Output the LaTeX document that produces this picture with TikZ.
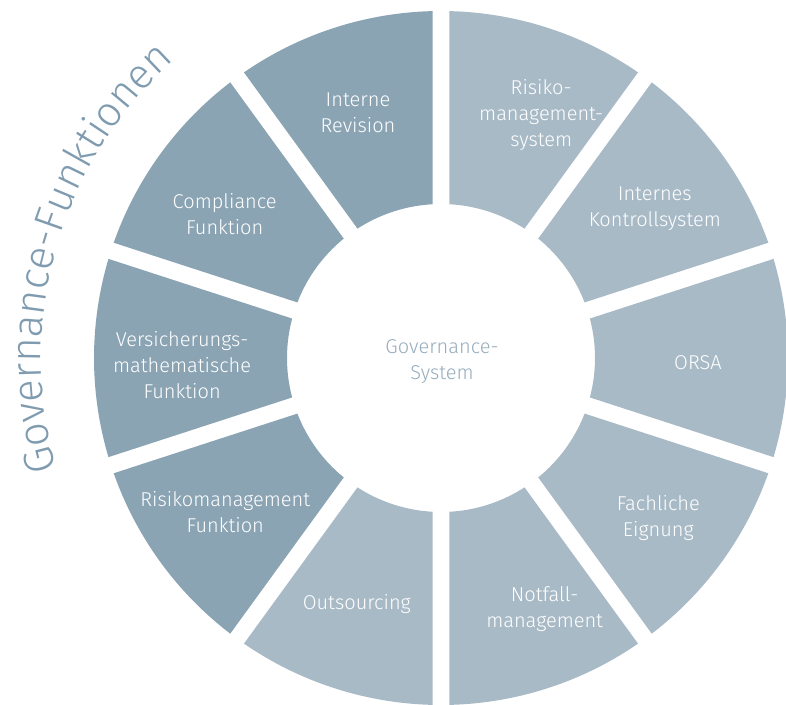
\documentclass[tikz,border=0pt]{standalone}
\usepackage{fontspec}
\setmainfont{Fira Sans}[UprightFont=* Light]
\usepackage{tikz}
\usetikzlibrary{decorations.text}
\definecolor{darkseg}{RGB}{139,164,180}
\definecolor{lightseg}{RGB}{169,186,199}
\definecolor{govtext}{RGB}{127,155,175}
\definecolor{hubtext}{RGB}{150,172,188}
\tikzset{
        segtext/.style = {text=white, align=center,
            font=\fontsize{20}{26}\selectfont},
        hub/.style = {text=hubtext, align=center,
            font=\fontsize{20}{26}\selectfont},
        arctext/.style = {decorate, decoration={text along path,
            text align=center,
            text={|\fontsize{42}{42}\selectfont\color{govtext}|Governance-Funktionen}}},
    }

\begin{document}
\begin{tikzpicture}[x=1pt,y=1pt]
    \useasboundingbox (-441,-346) rectangle (345,358);

    % ring segments, clockwise from the top
    \foreach \a/\col in {90/lightseg,54/lightseg,18/lightseg,-18/lightseg,-54/lightseg,
                         -90/lightseg,-126/darkseg,-162/darkseg,162/darkseg,126/darkseg}
        \fill[\col] (\a-1.40:347) arc[start angle=\a-1.40, end angle=\a-34.60, radius=347]
            -- (\a-32.84:154) arc[start angle=\a-32.84, end angle=\a-3.16, radius=154] -- cycle;

    \node[segtext] (risiko) at (67.6:263) {Risiko-\\management-\\system};
    \node[segtext] (iks) at (35:261) {Internes\\Kontrollsystem};
    \node[segtext] (orsa) at (-1:257) {ORSA};
    \node[segtext] (eignung) at (-36.4:270) {Fachliche\\Eignung};
    \node[segtext] (notfall) at (-67.6:272) {Notfall-\\management};
    \node[segtext] (outsourcing) at (-108.9:260) {Outsourcing};
    \node[segtext] (rmf) at (-144.5:265) {Risikomanagement\\Funktion};
    \node[segtext] (vmf) at (181.5:259) {Versicherungs-\\mathematische\\Funktion};
    \node[segtext] (compliance) at (146.3:260) {Compliance\\Funktion};
    \node[segtext] (revision) at (108.7:259) {Interne\\Revision};

    \node[hub] (system) at (1,-4) {Governance-\\System};

    %\draw[red] (0,0) circle (400);
    \path[arctext] (204:400) arc[start angle=204, end angle=124, radius=400];
\end{tikzpicture}
\end{document}
